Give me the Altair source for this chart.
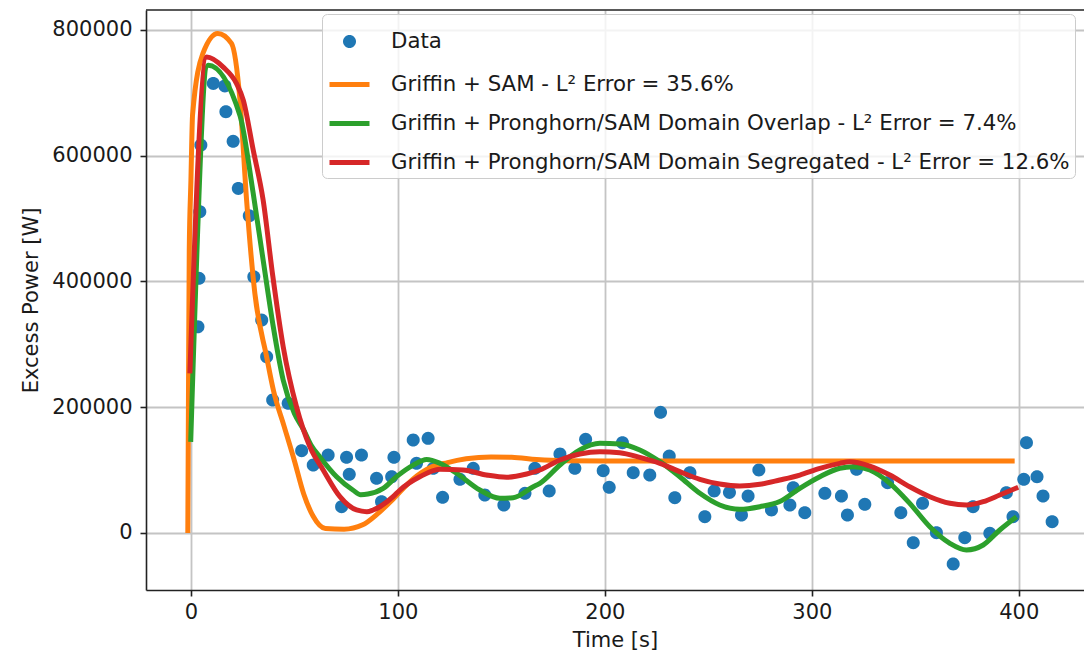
import math
import altair as alt
import pandas as pd

# ---------------- data ----------------
SERIES = [
    "Data",
    "Griffin + SAM - L² Error = 35.6%",
    "Griffin + Pronghorn/SAM Domain Overlap - L² Error = 7.4%",
    "Griffin + Pronghorn/SAM Domain Segregated - L² Error = 12.6%",
]
COLORS = ["#1f77b4", "#ff7f0e", "#2ca02c", "#d62728"]

data_t = [3.4, 3.9, 4.3, 4.8, 10.8, 16.4, 16.9, 20.4, 22.9, 28.2, 30.4, 34.2, 36.6, 39.5,
          47.0, 53.5, 59.1, 66.3, 72.8, 75.2, 76.5, 82.4, 89.7, 92.1, 97.0, 98.1, 107.4,
          109.0, 114.6, 117.1, 121.6, 130.0, 136.4, 142.0, 151.2, 161.4, 166.2, 173.1,
          178.3, 185.5, 190.7, 199.2, 202.1, 208.5, 213.7, 221.7, 226.9, 231.1, 233.8,
          241.1, 248.3, 252.8, 260.2, 266.0, 269.2, 274.4, 280.5, 289.4, 291.0, 296.6,
          306.3, 314.3, 317.2, 321.6, 325.6, 336.6, 343.0, 349.0, 353.5, 360.2, 368.3,
          373.9, 377.9, 386.0, 394.0, 397.2, 402.4, 403.7, 408.8, 411.7, 416.1]
data_p = [328000, 405000, 511000, 617000, 715000, 711000, 670000, 623000, 548000, 504500,
          407500, 338700, 280300, 211500, 206200, 130900, 108100, 124000, 41800, 120300,
          93300, 124000, 87000, 49800, 89500, 120300, 147900, 110800, 150500, 102900,
          56800, 85400, 102900, 60400, 44500, 63100, 102900, 66800, 125600, 102900,
          149000, 99100, 72700, 143600, 95900, 92200, 191900, 122400, 56200, 95900,
          25900, 66800, 64500, 28600, 58800, 100200, 36600, 44500, 72100, 32300, 63100,
          58800, 28600, 101300, 45600, 80000, 32300, -15400, 47200, 500, -49300, -7400,
          41800, -500, 64100, 25900, 85400, 143600, 89500, 58800, 18000]

sam_t = [-1.5, -1.2, -0.8, 0.0, 0.8, 5.8, 13.0, 19.6, 23.7, 26.9, 30.9, 36.6, 40.0, 45.0,
         50.0, 54.5, 59.0, 65.0, 74.0, 83.0, 90.0, 98.0, 107.0, 115.0, 124.0, 133.0,
         145.0, 155.0, 167.0, 180.0, 200.0, 250.0, 300.0, 350.0, 398.0]
sam_p = [0, 200000, 450000, 560000, 665000, 762700, 794500, 778600, 688500, 529500,
         381000, 280000, 225000, 170000, 115000, 62000, 27000, 7000, 6000, 13000, 30000,
         55000, 85000, 103000, 112000, 118000, 121000, 120500, 117000, 115000, 114500,
         114500, 114500, 114500, 114500]

overlap_t = [-0.1, 8.4, 23.7, 30.1, 34.9, 39.8, 44.6, 50.0, 54.3, 58.0, 62.3, 70.4, 78.4,
             82.0, 85.5, 92.9, 99.5, 107.4, 113.9, 120.3, 128.4, 139.6, 149.3, 155.7,
             165.4, 168.6, 178.3, 187.9, 197.6, 207.2, 216.9, 226.6, 236.2, 245.9, 255.5,
             265.2, 274.9, 284.5, 294.2, 303.9, 313.5, 320.0, 328.0, 337.7, 347.3, 357.0,
             366.7, 374.7, 382.8, 390.8, 398.9]
overlap_p = [145000, 744000, 664000, 540000, 434000, 328000, 243000, 190000, 165000,
             140000, 121000, 89500, 68000, 61000, 62000, 71000, 90000, 108000, 117000,
             111000, 95000, 68400, 55200, 56000, 73600, 79000, 108100, 132000, 142600,
             141500, 132000, 113400, 89500, 63100, 44500, 37700, 41800, 50000, 71100,
             89500, 102900, 105400, 100200, 79000, 47200, 10000, -16400, -27000, -19100,
             4800, 25900]

segregated_t = [-0.5, 7.6, 15.6, 22.0, 25.3, 30.1, 34.9, 39.5, 44.6, 51.0, 57.5, 63.9,
                72.0, 80.0, 85.0, 88.0, 91.3, 97.7, 101.0, 110.6, 120.3, 131.5, 142.8,
                152.5, 162.2, 168.6, 178.3, 187.9, 197.6, 207.2, 216.9, 226.6, 236.2,
                245.9, 255.5, 265.2, 274.9, 284.5, 294.2, 303.9, 313.5, 318.2, 328.0,
                337.7, 347.3, 357.0, 366.7, 374.7, 382.8, 390.8, 399.7]
segregated_p = [254000, 757000, 741000, 715000, 688500, 609000, 529500, 410000, 296000,
                200800, 137200, 100200, 57700, 36600, 33900, 36600, 41800, 57700, 68400,
                89500, 101300, 100200, 92200, 88600, 93800, 100200, 116100, 125600, 129300,
                127700, 120300, 110800, 97500, 85400, 77900, 74700, 77400, 84300, 92200,
                102900, 110800, 113400, 106500, 92200, 73600, 57700, 47200, 44500, 49800,
                60400, 72700]

X_TICKS = [0, 100, 200, 300, 400]
Y_TICKS = [0, 200000, 400000, 600000, 800000]

# ---------------- layout / style ----------------
W, H = 938, 580
FONT = "DejaVu Sans"
FS = 21
R = 0.2
CIRCLE = "M " + " L ".join(
    f"{R * math.cos(2 * math.pi * k / 32):.4f} {R * math.sin(2 * math.pi * k / 32):.4f}"
    for k in range(32)) + " Z"
SHAPES = [CIRCLE, "stroke", "stroke", "stroke"]


def frame(t, p, name):
    return pd.DataFrame({"t": t, "p": p, "series": name, "i": list(range(len(t)))})


df_data = frame(data_t, data_p, SERIES[0])
df_sam = frame(sam_t, sam_p, SERIES[1])
df_ovl = frame(overlap_t, overlap_p, SERIES[2])
df_seg = frame(segregated_t, segregated_p, SERIES[3])

legend = alt.Legend(
    title=None, orient="none", legendX=176, legendY=4,
    labelFont=FONT, labelFontSize=21.3, labelColor="#1a1a1a", labelLimit=0,
    symbolSize=1600, symbolStrokeWidth=5, symbolFillColor="#1f77b4",
    labelOffset=19, rowPadding=6, padding=5,
    fillColor="rgba(255,255,255,0.8)", strokeColor="#cccccc", cornerRadius=5,
)

x_enc = alt.X("t:Q", scale=alt.Scale(domain=[-21.7, 431.5], nice=False, zero=False),
              axis=alt.Axis(values=X_TICKS, title="Time [s]", format="d",
                            labelPadding=5, titlePadding=7))
y_enc = alt.Y("p:Q", scale=alt.Scale(domain=[-90660, 831800], nice=False, zero=False),
              axis=alt.Axis(values=Y_TICKS, title="Excess Power [W]", format="d",
                            labelPadding=8, titlePadding=10))
color_enc = alt.Color("series:N", scale=alt.Scale(domain=SERIES, range=COLORS), legend=legend)

# plotted point radius: R * sqrt(size) / 2 = 6.5 px
points = alt.Chart(df_data).mark_point(filled=True, opacity=1, size=4225, clip=True).encode(
    x=x_enc, y=y_enc, color=color_enc,
    shape=alt.Shape("series:N", scale=alt.Scale(domain=SERIES, range=SHAPES), legend=legend),
)


def line(df):
    return alt.Chart(df).mark_line(strokeWidth=5, clip=True, interpolate="monotone").encode(
        x=x_enc, y=y_enc, color=color_enc, order="i:Q")


top_spine = alt.Chart(pd.DataFrame({"a": [0]})).mark_rule(
    color="#222222", strokeWidth=1.6).encode(
    x=alt.value(0), x2=alt.value(W), y=alt.value(0))

chart = alt.layer(points, line(df_sam), line(df_ovl), line(df_seg), top_spine).properties(
    width=W, height=H, background="white",
    autosize=alt.AutoSizeParams(type="none"),
    padding={"left": 146, "top": 10, "right": 0, "bottom": 67},
).configure_view(stroke=None).configure_axis(
    labelFont=FONT, titleFont=FONT, labelFontSize=FS, titleFontSize=FS,
    labelColor="#1a1a1a", titleColor="#1a1a1a", titleFontWeight="normal",
    domainColor="#222222", domainWidth=1.6, tickColor="#222222", tickWidth=1.6,
    tickSize=6, gridColor="#c4c4c4", gridWidth=1.8,
)

chart.save("out.html", embed_options={"renderer": "svg", "actions": False})
